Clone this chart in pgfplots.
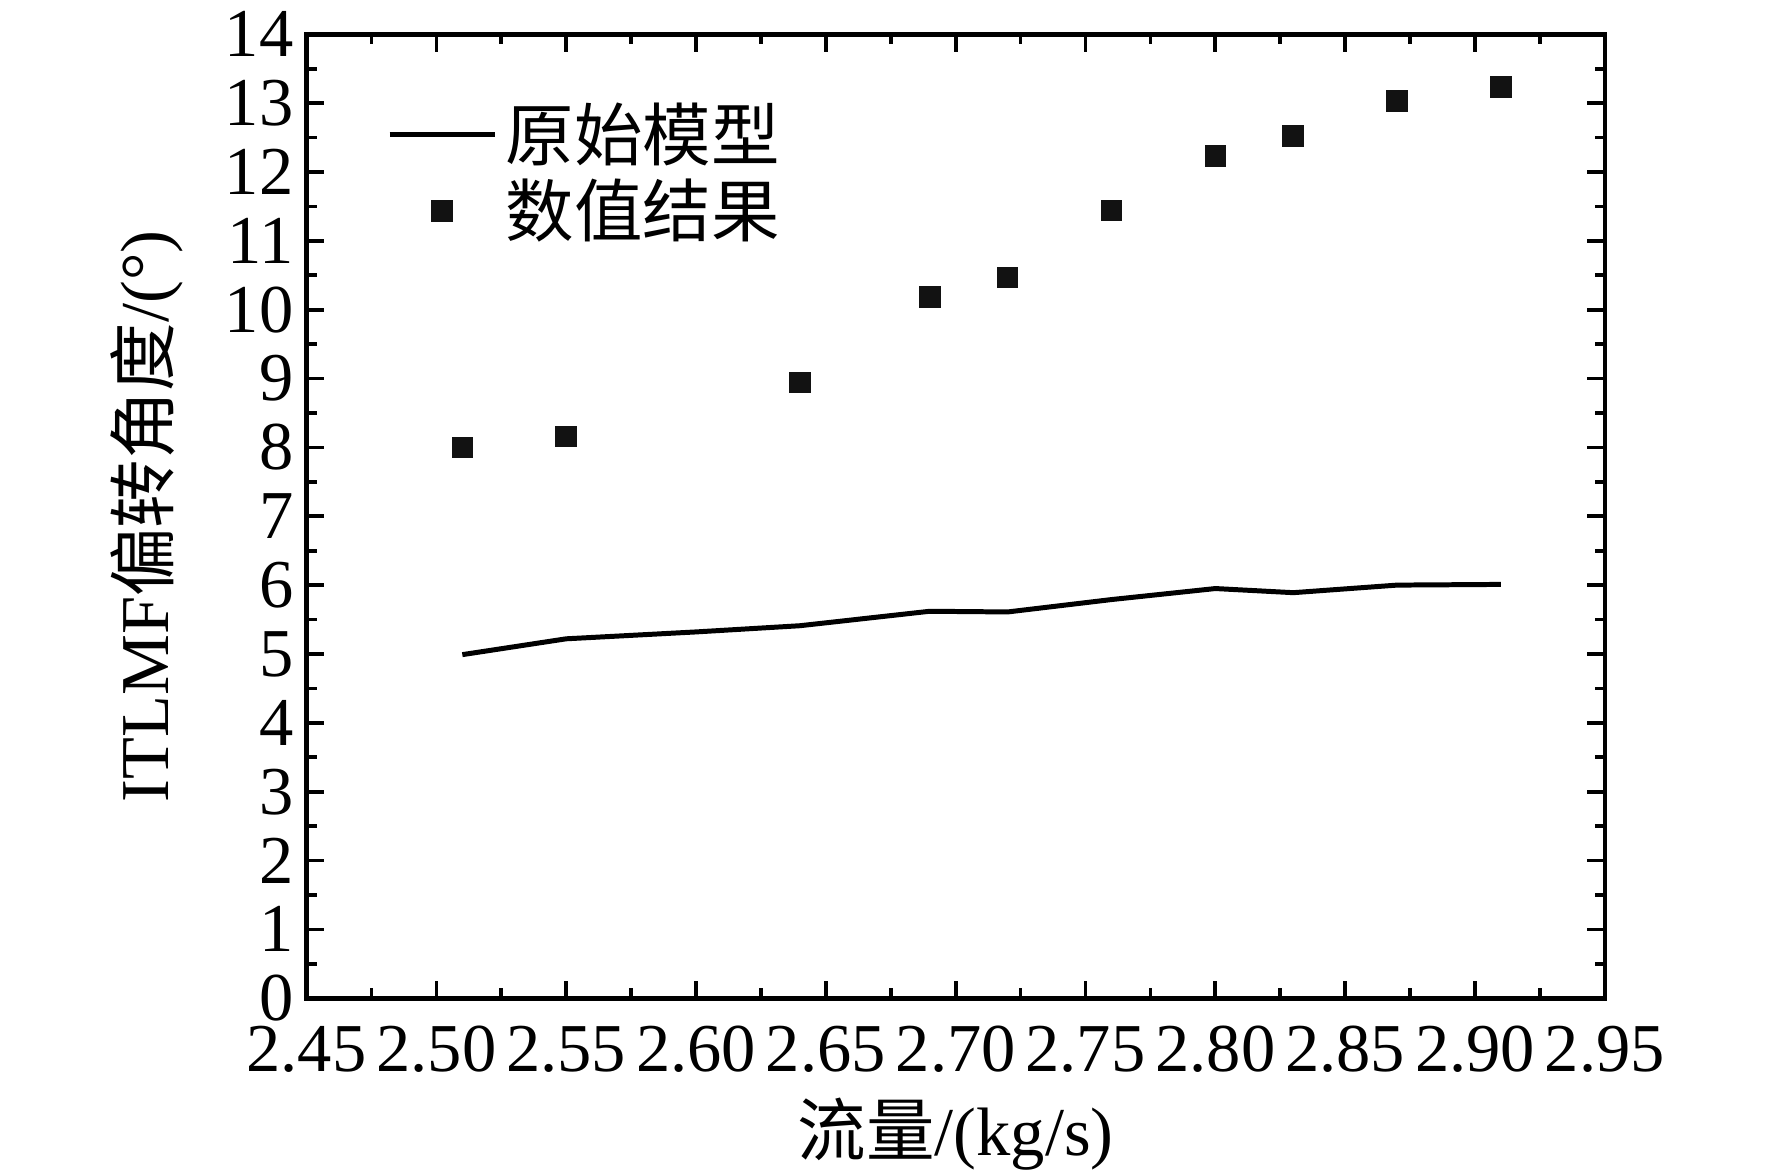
\documentclass[border=0pt]{standalone}
\usepackage{fontspec}
\setmainfont{Liberation Serif}
\newfontfamily\cjk{Noto Sans CJK SC}
\usepackage{pgfplots}
\pgfplotsset{compat=1.18}
\begin{document}
\begin{tikzpicture}
\useasboundingbox (-2.595,-1.50) rectangle (12.405,8.45);
\begin{axis}[
  at={(0,0)}, anchor=south west,
  width=10.99cm, height=8.16cm, scale only axis,
  xmin=2.45, xmax=2.95, ymin=0, ymax=14,
  xtick={2.45,2.50,2.55,2.60,2.65,2.70,2.75,2.80,2.85,2.90,2.95},
  xticklabels={2.45,2.50,2.55,2.60,2.65,2.70,2.75,2.80,2.85,2.90,2.95},
  ytick={0,1,2,3,4,5,6,7,8,9,10,11,12,13,14},
  minor x tick num=1, minor y tick num=1,
  tick align=inside,
  major tick length=0.15cm, minor tick length=0.085cm,
  every tick/.style={black, line width=0.9pt},
  axis line style={line width=1.1pt},
  /pgf/number format/assume math mode=true,
  tick label style={font=\fontsize{16.5}{19}\selectfont},
  xticklabel style={yshift=-0.11cm, inner sep=1pt, yshift=-0.08cm},
  yticklabel style={inner sep=1pt, xshift=-0.07cm},
  xlabel={{\cjk 流量}/(kg/s)},
  ylabel={ITLMF{\cjk 偏转角度}/(°)},
  label style={font=\fontsize{16.5}{19}\selectfont},
  x label style={at={([yshift=-1.15cm]axis description cs:0.5,0)}, anchor=center},
  y label style={at={([xshift=-1.355cm]axis description cs:0,0.5)}, anchor=center, rotate=0},
  legend style={at={(0.055,0.947)}, anchor=north west, draw=none, fill=white,
    font=\fontsize{16.5}{19}\cjk, row sep=-1pt, inner sep=2pt},
  legend cell align=left,
]
\addplot[black, line width=1.2pt,
  legend image code/.code={\draw[black, line width=1.2pt] (0cm,0cm) -- (0.89cm,0cm);}]
  coordinates {
  (2.51,4.99) (2.55,5.22) (2.60,5.32) (2.64,5.41) (2.69,5.62) (2.72,5.61)
  (2.76,5.79) (2.80,5.95) (2.83,5.89) (2.87,6.00) (2.91,6.01)
};
\addlegendentry{原始模型}
\addplot[only marks, mark=square*, mark size=2.4pt, color=black!93,
  legend image code/.code={\draw[only marks, mark=square*, mark size=2.4pt, color=black!93] plot coordinates {(0.445cm,0cm)};}]
  coordinates {
  (2.51,8.00) (2.55,8.16) (2.64,8.94) (2.69,10.18) (2.72,10.47)
  (2.76,11.44) (2.80,12.23) (2.83,12.52) (2.87,13.03) (2.91,13.23)
};
\addlegendentry{数值结果}
\end{axis}
\end{tikzpicture}
\end{document}
